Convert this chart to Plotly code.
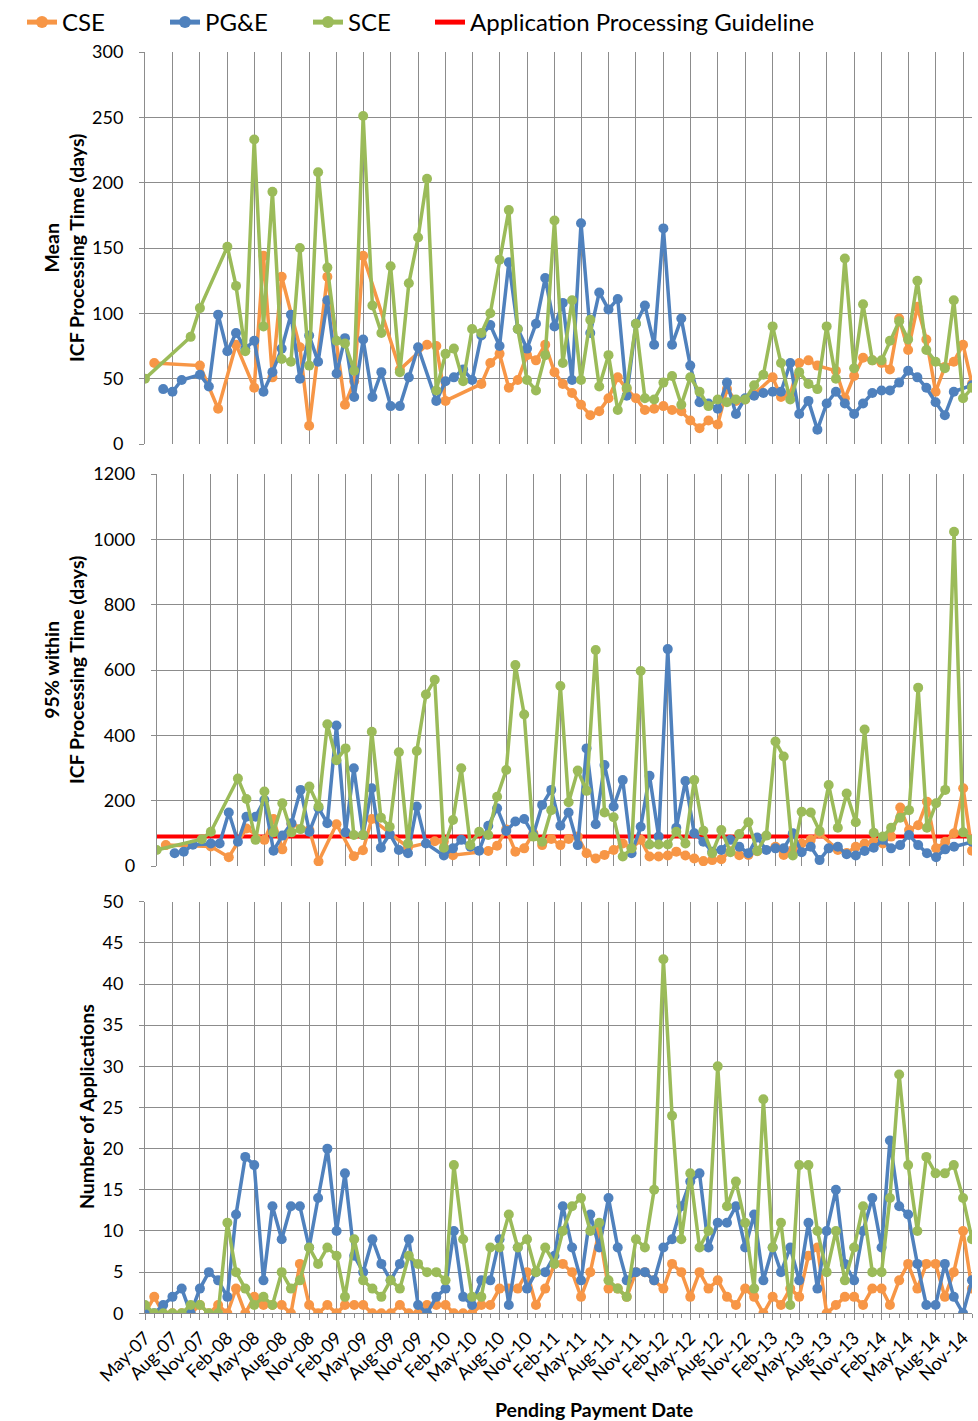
import plotly.graph_objects as go
import pandas as pd

N = None
months = pd.date_range("2007-05-01", "2014-12-01", freq="MS")

# ---- Number of applications ----
cse_count = [0,2,0,0,0,0,1,0,1,0,3,0,2,1,1,1,0,6,1,0,1,0,1,1,1,0,0,0,1,0,
             0,1,1,1,0,0,0,1,1,3,3,3,5,1,3,6,6,5,2,5,10,3,3,2,5,5,4,3,6,5,
             2,5,3,4,2,1,3,2,0,2,1,3,2,7,8,0,1,2,2,1,3,3,1,4,6,3,6,6,2,5,
             10,3]
pge_count = [0,0,1,2,3,0,3,5,4,2,12,19,18,4,13,9,13,13,8,14,20,10,17,7,5,9,6,4,6,9,
             1,0,2,3,10,2,1,4,4,9,1,8,3,5,5,7,13,8,4,12,8,14,8,4,5,5,4,8,9,13,
             16,17,8,11,11,13,8,12,4,8,5,8,4,11,3,10,15,6,4,10,14,8,21,13,12,6,1,1,6,2,
             0,4]
sce_count = [1,0,0,0,0,1,1,0,0,11,5,3,1,2,1,5,3,4,8,6,8,7,2,9,4,3,2,4,3,7,
             6,5,5,4,18,9,2,2,8,8,12,8,9,5,8,6,10,13,14,10,11,4,3,2,9,8,15,43,24,9,
             17,8,10,30,13,16,11,3,26,8,11,1,18,18,10,5,10,4,8,13,5,5,14,29,18,10,19,17,17,18,
             14,9]

# ---- Mean ICF processing time (days) ----
cse_mean = [N,62,N,N,N,N,60,N,27,N,76,N,43,144,51,128,N,74,14,N,128,N,30,48,144,N,N,N,57,N,
            N,76,75,33,N,N,N,46,62,69,43,49,68,64,76,55,46,39,30,22,25,35,51,42,35,26,27,29,26,25,
            18,12,18,15,42,33,34,38,N,51,36,38,62,64,60,N,56,35,52,66,64,62,57,96,72,105,80,40,59,63,
            76,46]
pge_mean = [N,N,42,40,49,N,53,44,99,71,85,73,79,40,55,73,99,50,83,63,110,54,81,36,80,36,55,29,29,51,
            74,N,33,48,51,57,49,83,91,75,139,88,73,92,127,90,108,49,169,85,116,103,111,37,92,106,76,165,76,96,
            60,32,31,27,47,23,35,37,39,40,40,62,23,33,11,31,40,31,23,31,39,41,41,47,56,51,43,32,22,40,
            N,45]
sce_mean = [50,N,N,N,N,82,104,N,N,151,121,71,233,90,193,65,63,150,60,208,135,79,77,56,251,106,85,136,55,123,
            158,203,41,69,73,48,88,85,100,141,179,88,49,41,68,171,62,110,49,95,44,68,26,43,92,35,34,47,52,30,
            51,40,29,34,32,34,34,45,53,90,62,34,55,46,42,90,50,142,58,107,64,64,79,94,80,125,72,63,58,110,
            35,43]

# ---- 95% within ICF processing time (days) ----
cse_p95 = [N,64,N,N,N,N,60,N,27,N,115,N,80,144,51,128,N,110,14,N,128,N,30,48,144,N,N,N,57,N,
           N,76,75,33,N,N,N,46,62,112,44,54,100,64,83,64,83,90,39,23,34,49,69,54,80,29,29,32,44,32,
           23,15,18,21,45,33,34,45,N,59,34,50,69,80,100,N,49,40,59,69,74,69,90,179,110,125,197,54,74,100,
           238,47]
pge_p95 = [N,N,39,44,65,N,69,69,164,74,151,151,202,47,93,131,233,105,177,131,430,103,299,95,238,56,98,49,39,182,
           69,N,32,54,80,59,47,123,177,107,136,144,95,187,233,123,164,64,360,128,309,182,263,39,120,276,90,664,117,260,
           100,74,44,49,80,59,39,87,49,54,54,100,42,59,18,54,59,36,32,46,56,80,54,64,95,64,39,27,51,59,
           N,74]
sce_p95 = [49,N,N,N,N,82,105,N,N,268,205,80,228,103,192,103,113,243,182,434,324,360,95,95,411,148,120,348,69,352,
           525,570,56,141,299,64,105,95,212,294,615,464,90,74,171,551,195,292,230,661,164,149,29,54,597,66,66,66,105,69,
           263,108,39,110,42,98,134,46,93,381,335,32,166,164,107,248,117,222,134,418,102,90,117,148,171,546,117,192,233,1023,
           103,80]

GUIDELINE_DAYS = 90

series = [("CSE", "#F79646", cse_mean, cse_p95, cse_count),
          ("PG&E", "#4F81BD", pge_mean, pge_p95, pge_count),
          ("SCE", "#9BBB59", sce_mean, sce_p95, sce_count)]

FONT = "Lato"
GRID = "#8c8c8c"
W, H = 978, 1421

fig = go.Figure()

# guideline (drawn first, shown in its own legend box after the series)
fig.add_trace(go.Scatter(x=[months[0], months[-1]], y=[GUIDELINE_DAYS, GUIDELINE_DAYS],
                         mode="lines", line=dict(color="#FF0000", width=4),
                         name="Application Processing Guideline", legend="legend2",
                         xaxis="x2", yaxis="y2", showlegend=True))

for k, (name, color, mean, p95, cnt) in enumerate(series):
    for ax, vals, show in (("", mean, True), ("2", p95, False), ("3", cnt, False)):
        fig.add_trace(go.Scatter(
            x=months, y=vals, name=name, mode="lines+markers", connectgaps=True,
            line=dict(color=color, width=3.5), marker=dict(color=color, size=10),
            xaxis="x" + ax, yaxis="y" + ax, showlegend=show, legendgroup=name,
            legendrank=k + 1))

def px2y(p):
    return 1 - p / H

def px2x(p):
    return p / W

xcommon = dict(type="date", range=[months[0], months[-1]], tick0=months[0], dtick="M3",
               showgrid=True, gridcolor=GRID, gridwidth=1, zeroline=False, automargin=False)
ycommon = dict(showgrid=True, gridcolor=GRID, gridwidth=1, zeroline=False,
               ticks="outside", ticklen=5, tickcolor=GRID, showline=True, linecolor=GRID,
               linewidth=1, tickfont=dict(family=FONT, size=18, color="#000"),
               ticklabelstandoff=12, automargin=False)

legend_common = dict(orientation="h", yanchor="top", xanchor="left", y=1.0,
                     font=dict(family=FONT, size=24), bgcolor="rgba(0,0,0,0)",
                     itemsizing="constant")

fig.update_layout(
    width=W, height=H, margin=dict(l=0, r=0, t=0, b=0, autoexpand=False),
    paper_bgcolor="white", plot_bgcolor="white",
    font=dict(family=FONT, color="#000"),
    showlegend=True,
    legend=dict(**legend_common, x=px2x(22), traceorder="normal",
                entrywidth=98, entrywidthmode="pixels", tracegroupgap=0),
    legend2=dict(**legend_common, x=px2x(430)),
    xaxis=dict(**xcommon, domain=[px2x(145), px2x(972)], anchor="y", showticklabels=False),
    yaxis=dict(**ycommon, domain=[px2y(444), px2y(52)], anchor="x", range=[0, 300], dtick=50),
    xaxis2=dict(**xcommon, domain=[px2x(156.7), px2x(972)], anchor="y2", showticklabels=False),
    yaxis2=dict(**ycommon, domain=[px2y(866), px2y(474)], anchor="x2", range=[0, 1200], dtick=200),
    xaxis3=dict(**xcommon, domain=[px2x(145), px2x(972)], anchor="y3", showticklabels=True,
                tickformat="%b-%y", tickangle=-45, ticks="outside", ticklen=6, tickcolor=GRID,
                showline=True, linecolor=GRID,
                tickfont=dict(family=FONT, size=18, color="#000"),
                minor=dict(dtick="M1", tick0=months[0], ticks="outside", ticklen=4,
                           tickcolor=GRID, showgrid=False)),
    yaxis3=dict(**ycommon, domain=[px2y(1313.3), px2y(901.7)], anchor="x3", range=[0, 50], dtick=5),
)

title_font = dict(family=FONT, size=19.5, color="#000")
annos = [
    dict(text="<b>Mean</b><br><b>ICF Processing Time (days)</b>", x=px2x(64), y=px2y(248)),
    dict(text="<b>95% within</b><br><b>ICF Processing Time (days)</b>", x=px2x(64), y=px2y(670)),
    dict(text="<b>Number of Applications</b>", x=px2x(86), y=px2y(1107)),
]
for a in annos:
    fig.add_annotation(xref="paper", yref="paper", xanchor="center", yanchor="middle",
                       textangle=-90, showarrow=False, font=title_font, **a)
fig.add_annotation(text="<b>Pending Payment Date</b>", xref="paper", yref="paper",
                   x=px2x(594), y=px2y(1409), xanchor="center", yanchor="middle",
                   showarrow=False, font=title_font)

fig.write_html("out.html")
